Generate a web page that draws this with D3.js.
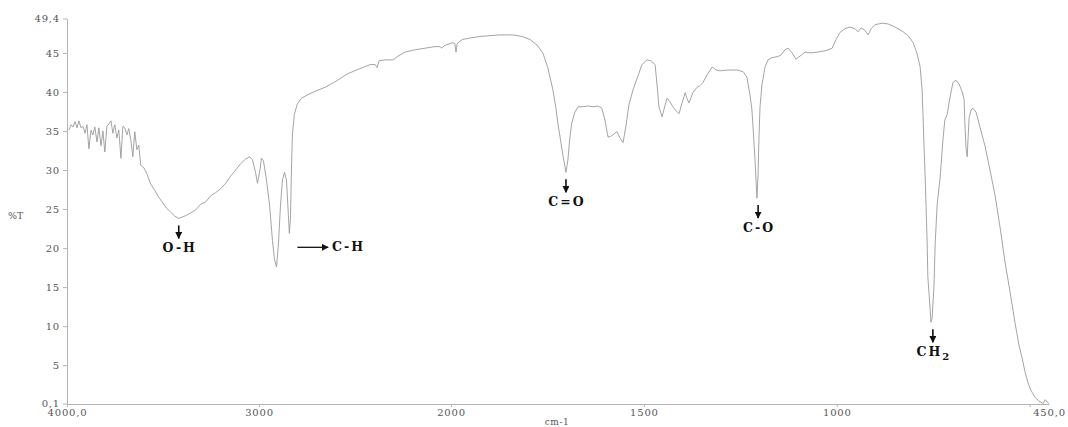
<!DOCTYPE html>
<html>
<head>
  <meta charset="utf-8">
  <title>IR Spectrum</title>
  <script src="https://d3js.org/d3.v7.min.js"></script>
  <style>
    body {
      margin: 0;
      padding: 0;
      background: white;
      overflow: hidden;
    }
    svg {
      display: block;
      background: white;
    }
    .axis text {
      font-family: 'DejaVu Serif', serif;
      font-size: 10px;
      fill: #555;
      letter-spacing: 0.8px;
    }
    .axis path, .axis line {
      stroke: #b4b4b4;
      stroke-width: 1;
    }
    .peak {
      font-family: 'DejaVu Serif', serif;
      font-weight: bold;
      font-size: 12.5px;
      fill: #111;
      letter-spacing: 2px;
    }
  </style>
</head>
<body>
  <svg id="chart" width="1068" height="427"></svg>

  <script>
    // spectrum (cm-1, %T)
    const wavenumbers = [
      3990, 3979, 3969, 3958, 3948, 3938, 3927, 3917, 3906, 3896, 3886, 3875, 3865, 3855,
      3844, 3834, 3823, 3813, 3803, 3792, 3782, 3771, 3761, 3751, 3740, 3730, 3719, 3709,
      3699, 3688, 3678, 3668, 3657, 3647, 3636, 3626, 3616,
      3600, 3584, 3564, 3543, 3522, 3501, 3481, 3460, 3439, 3418, 3397, 3377, 3356, 3330,
      3304, 3278, 3252, 3226, 3200, 3174, 3148, 3122, 3096, 3070, 3049, 3034, 3018, 3008,
      2997, 2987, 2977, 2961, 2945, 2930, 2919, 2909, 2899, 2888, 2878, 2867, 2857, 2847,
      2842, 2836, 2831, 2826, 2816, 2800, 2779, 2748, 2706, 2655, 2603, 2540, 2483, 2421,
      2395, 2385, 2374, 2343, 2301, 2275, 2239, 2187, 2135, 2083, 2057, 2047, 2036, 2005,
      1995, 1990, 1987, 1984, 1971, 1951, 1925, 1899, 1873, 1839, 1816, 1795, 1777, 1762,
      1749, 1736, 1728, 1723, 1715, 1710, 1702, 1697, 1692, 1687, 1679, 1671, 1658, 1645,
      1632, 1619, 1609, 1601, 1593, 1583, 1570, 1562, 1554, 1546, 1539, 1528, 1515, 1505,
      1492, 1482, 1471, 1466, 1461, 1453, 1445, 1440, 1432, 1425, 1417, 1409, 1401, 1393,
      1388, 1383, 1373, 1362, 1355, 1347, 1336, 1323, 1313, 1303, 1282, 1259, 1243, 1233,
      1225, 1220, 1215, 1212, 1207, 1204, 1202, 1199, 1194, 1186, 1178, 1168, 1155, 1145,
      1134, 1126, 1116, 1106, 1095, 1082, 1069, 1049, 1028, 1012, 1002, 992, 979, 966,
      953, 945, 937, 927, 919, 911, 901, 883, 867, 849, 831, 815, 802, 792,
      784, 779, 777, 774, 771, 766, 764, 758, 756, 753, 748, 745, 740, 732,
      725, 720, 714, 707, 699, 691, 683, 675, 670, 668, 665, 662, 660, 657,
      652, 647, 639, 629, 616, 603, 590, 577, 564, 551, 538, 528, 520, 512,
      504, 497, 486, 476, 465, 460, 455, 450
    ];
    const transmittance = [
      35.1, 35.8, 35.5, 36.2, 35.4, 36.3, 35.4, 35.6, 34.7, 35.8, 32.7, 35.1, 34.5, 35.5,
      33.6, 35.4, 33.1, 35.0, 32.3, 35.6, 35.9, 36.3, 34.7, 35.8, 34.1, 35.1, 31.5, 35.6,
      35.4, 34.5, 35.3, 33.9, 31.7, 34.9, 32.6, 33.2, 30.6,
      30.3, 29.5, 28.2, 27.4, 26.5, 25.8, 25.1, 24.6, 24.1, 23.8, 24.0, 24.2, 24.5, 24.9,
      25.6, 25.9, 26.7, 27.1, 27.6, 28.3, 29.2, 30.0, 30.8, 31.4, 31.7, 31.3, 29.7, 28.3,
      29.7, 31.5, 31.2, 28.7, 25.5, 21.0, 18.5, 17.6, 20.4, 25.5, 28.7, 29.7, 28.7, 24.2,
      21.9, 23.8, 30.0, 34.5, 37.1, 38.5, 39.2, 39.6, 40.1, 40.6, 41.3, 42.3, 42.9, 43.5,
      43.5, 43.1, 44.0, 44.1, 44.1, 44.6, 45.1, 45.4, 45.6, 45.8, 45.8, 45.6, 45.9, 46.2,
      46.3, 46.2, 45.1, 46.2, 46.7, 46.9, 47.1, 47.2, 47.3, 47.3, 47.1, 46.7, 46.0, 45.0,
      43.1, 40.3, 37.9, 36.0, 33.5, 31.9, 29.7, 31.3, 34.1, 36.0, 37.4, 38.1, 38.1, 38.2,
      38.1, 38.2, 37.9, 36.4, 34.2, 34.4, 34.9, 34.1, 33.5, 35.8, 38.3, 40.3, 42.1, 43.5,
      44.1, 44.0, 43.5, 40.9, 38.1, 36.8, 38.3, 39.2, 38.7, 38.1, 37.6, 37.2, 38.6, 39.9,
      39.1, 38.6, 39.9, 40.6, 40.8, 41.2, 42.2, 43.2, 42.8, 42.7, 42.8, 42.8, 42.6, 41.9,
      39.6, 37.7, 33.8, 31.3, 26.4, 29.4, 33.8, 38.1, 40.9, 43.2, 44.1, 44.4, 44.5, 44.7,
      45.4, 45.6, 45.0, 44.2, 44.6, 45.1, 45.0, 45.1, 45.3, 45.6, 46.7, 47.6, 48.1, 48.3,
      48.1, 47.7, 48.2, 47.9, 47.3, 48.1, 48.6, 48.8, 48.7, 48.3, 47.8, 47.2, 46.3, 44.9,
      43.2, 40.3, 37.7, 33.2, 29.1, 21.0, 16.3, 12.1, 10.5, 11.0, 15.3, 20.6, 25.5, 29.1,
      33.8, 36.4, 37.1, 39.2, 41.2, 41.5, 41.0, 40.0, 39.0, 35.8, 32.8, 31.7, 33.8, 36.7,
      37.7, 37.9, 37.4, 35.5, 33.1, 30.0, 26.8, 22.7, 18.2, 14.4, 10.4, 7.6, 6.0, 4.1,
      2.7, 1.8, 0.9, 0.4, 0.1, 0.6, 0.3, 0.1
    ];

    const yTicks = [49.4, 45, 40, 35, 30, 25, 20, 15, 10, 5, 0.1];
    const yTickLabels = ["49,4", "45", "40", "35", "30", "25", "20", "15", "10", "5", "0,1"];
    const xTicks = [4000, 3000, 2000, 1500, 1000, 500];
    const xLabelValues = [4000, 3000, 2000, 1500, 1000, 450];
    const xTickLabels = ["4000,0", "3000", "2000", "1500", "1000", "450,0"];

    // band assignments marked with a down arrow under the minimum
    const peakLabels = ["O-H", "C=O", "C-O", "CH"];
    const peakWavenumbers = [3418, 1702, 1204, 751];
    const peakMinima = [23.8, 29.7, 26.4, 10.5];
    // C-H band: horizontal arrow pointing right
    const chArrow = { label: "C-H", from: 2800, to: 2640, t: 20.1 };

    const svg = d3.select("#chart");

    // instrument changes scale at 2000 cm-1
    const x = d3.scaleLinear()
      .domain([4000, 2000, 450])
      .range([67, 451, 1049]);

    const y = d3.scaleLinear()
      .domain([0.1, 49.4])
      .range([403.5, 18.5]);

    const defs = svg.append("defs");
    defs.append("marker")
      .attr("id", "head")
      .attr("viewBox", "0 0 10 10")
      .attr("refX", 9).attr("refY", 5)
      .attr("markerWidth", 7).attr("markerHeight", 7)
      .attr("markerUnits", "userSpaceOnUse")
      .attr("orient", "auto")
      .append("path")
      .attr("d", "M0,0 L10,5 L0,10 Z")
      .attr("fill", "#111");

    // axes
    svg.append("g")
      .attr("class", "axis")
      .attr("transform", "translate(67,0)")
      .call(d3.axisLeft(y)
        .tickValues(yTicks)
        .tickFormat((d, i) => yTickLabels[i])
        .tickSize(4)
        .tickPadding(3)
        .tickSizeOuter(0));

    svg.append("g")
      .attr("class", "axis")
      .attr("transform", "translate(0,404)")
      .call(d3.axisBottom(x)
        .tickValues(xTicks)
        .tickFormat("")
        .tickSize(3)
        .tickSizeOuter(0));

    const xLabels = svg.append("g")
      .attr("class", "axis")
      .attr("transform", "translate(0,404)")
      .call(d3.axisBottom(x)
        .tickValues(xLabelValues)
        .tickFormat((d, i) => xTickLabels[i])
        .tickSize(0)
        .tickPadding(5));
    xLabels.select(".domain").remove();

    svg.append("text")
      .attr("x", 8).attr("y", 219)
      .attr("font-family", "DejaVu Serif, serif")
      .attr("font-size", 9.5)
      .attr("fill", "#555")
      .text("%T");

    svg.append("text")
      .attr("x", 557).attr("y", 425)
      .attr("text-anchor", "middle")
      .attr("font-family", "DejaVu Serif, serif")
      .attr("font-size", 9)
      .attr("fill", "#555")
      .attr("letter-spacing", "0.6px")
      .text("cm-1");

    // spectrum
    const spectrum = wavenumbers.map((w, i) => [w, transmittance[i]]);
    svg.append("path")
      .datum(spectrum)
      .attr("fill", "none")
      .attr("stroke", "#9a9a9a")
      .attr("stroke-width", 0.9)
      .attr("stroke-linejoin", "round")
      .attr("d", d3.line()
        .x(d => x(d[0]))
        .y(d => y(d[1])));

    // annotations
    const ann = svg.append("g");
    peakLabels.forEach((lab, i) => {
      const px = x(peakWavenumbers[i]);
      const py = y(peakMinima[i]);
      ann.append("line")
        .attr("x1", px).attr("x2", px)
        .attr("y1", py + 7).attr("y2", py + 20)
        .attr("stroke", "#111")
        .attr("stroke-width", 1.6)
        .attr("marker-end", "url(#head)");
      const t = ann.append("text")
        .attr("class", "peak")
        .attr("x", px + 1).attr("y", py + 34)
        .attr("text-anchor", "middle")
        .text(lab);
      if (lab === "CH") {
        t.append("tspan")
          .attr("dy", 4)
          .attr("font-size", 10)
          .text("2");
      }
    });

    ann.append("line")
      .attr("x1", x(chArrow.from)).attr("x2", x(chArrow.to))
      .attr("y1", y(chArrow.t)).attr("y2", y(chArrow.t))
      .attr("stroke", "#111")
      .attr("stroke-width", 1.3)
      .attr("marker-end", "url(#head)");
    ann.append("text")
      .attr("class", "peak")
      .attr("x", x(chArrow.to) + 4)
      .attr("y", y(chArrow.t) + 4)
      .text(chArrow.label);
  </script>
</body>
</html>
